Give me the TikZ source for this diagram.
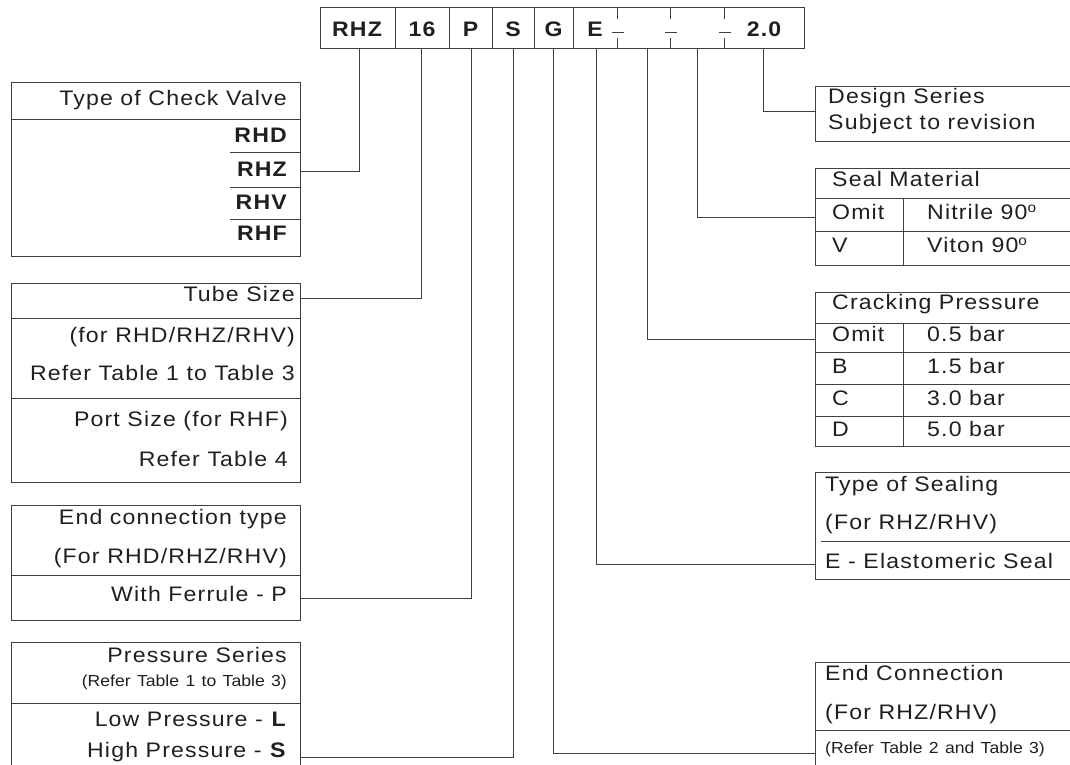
\documentclass[tikz,border=0pt]{standalone}
\usepackage{fontspec}
\usetikzlibrary{calc}
\newfontfamily\valvefont[FakeStretch=1.1,LetterSpace=5.5]{Liberation Sans}
\newfontfamily\valvenote[FakeStretch=1.1,WordSpace=1.3]{Liberation Sans}
\colorlet{rulecol}{black!75}
\colorlet{inkcol}{black!88}
\newcommand{\degmark}{\raisebox{0.6ex}{\fontsize{14}{14}\selectfont o}}
\tikzset{
  frame/.style={draw=rulecol,line width=0.9pt},
  link/.style={draw=rulecol,line width=0.9pt},
  txt/.style={inner sep=0pt,yshift=-2pt,text=inkcol,font=\valvefont\fontsize{21}{25}\selectfont},
  txtl/.style={txt,anchor=mid west},
  txtr/.style={txt,anchor=mid east},
  bld/.style={txtr,font=\valvefont\bfseries\fontsize{21}{25}\selectfont},
  note/.style={inner sep=0pt,yshift=-1.5pt,text=inkcol,font=\valvenote\fontsize{16}{19}\selectfont},
  code/.style={inner sep=0pt,text=inkcol,font=\valvefont\bfseries\fontsize{21}{25}\selectfont},
}

\begin{document}
\begin{tikzpicture}[x=1pt,y=-1pt]
  \useasboundingbox (0,0) rectangle (1070,764);
  \clip (0,0) rectangle (1070,764);

  % ordering code
  \draw[frame] (320,7) rectangle (804,48);
  \foreach \x in {395,449,492,534,573}
    \draw[frame] (\x,7) -- (\x,48);
  \foreach \x in {617,670,724} {
    \draw[frame] (\x,7) -- (\x,19) (\x,38) -- (\x,48);
    \draw[frame] (\x-5,32) -- (\x+7,32);
  }
  \foreach \x/\t/\n in {357/RHZ/type,422/16/size,470.5/P/conn,513/S/press,553.5/G/endc,595/E/seal,764/2.0/design}
    \node[code] (code-\n) at (\x,29) {\t};
  \foreach \x/\n in {359/type,421/size,471/conn,513/press,553/endc,596/seal,647/crack,697/mat,763/design}
    \coordinate (drop-\n) at (\x,48);

  % left tables
  \draw[frame] (11,82) rectangle (300,256);
  \draw[frame] (11,119) -- (300,119);
  \foreach \y in {152,187,219}
    \draw[frame] (230,\y) -- (300,\y);
  \node[txtr] (typehead) at (287,101) {Type of Check Valve};
  \node[bld] (rhd) at (287,138) {RHD};
  \node[bld] (rhz) at (287,172) {RHZ};
  \node[bld] (rhv) at (287,205) {RHV};
  \node[bld] (rhf) at (287,236) {RHF};

  \draw[frame] (11,283) rectangle (300,482);
  \draw[frame] (11,318) -- (300,318) (11,398) -- (300,398);
  \node[txtr] (sizehead) at (295,297) {Tube Size};
  \node[txtr] (sizefor) at (295,338) {(for RHD/RHZ/RHV)};
  \node[txtr] (sizeref) at (295,376) {Refer Table 1 to Table 3};
  \node[txtr] (porthead) at (288,422) {Port Size (for RHF)};
  \node[txtr] (portref) at (288,462) {Refer Table 4};

  \draw[frame] (11,505) rectangle (300,620);
  \draw[frame] (11,575) -- (300,575);
  \node[txtr] (connhead) at (287,520) {End connection type};
  \node[txtr] (connfor) at (287,559) {(For RHD/RHZ/RHV)};
  \node[txtr] (ferrule) at (287,597) {With Ferrule - P};

  \draw[frame] (11,642) rectangle (300,790);
  \draw[frame] (11,703) -- (300,703);
  \node[txtr] (presshead) at (287,658) {Pressure Series};
  \node[note,anchor=mid east] (pressref) at (287,683) {(Refer Table 1 to Table 3)};
  \node[txtr] (low) at (287,722) {Low Pressure - \textbf{L}};
  \node[txtr] (high) at (287,753) {High Pressure - \textbf{S}};

  % right tables
  \draw[frame] (815,86) rectangle (1090,141);
  \node[txtl] (dshead) at (828,99) {Design Series};
  \node[txtl] (dsrev) at (828,125) {Subject to revision};

  \draw[frame] (815,168) rectangle (1090,265);
  \draw[frame] (815,198) -- (1090,198) (815,231) -- (1090,231) (903,198) -- (903,265);
  \node[txtl] (mathead) at (832,182) {Seal Material};
  \node[txtl] (matomit) at (832,215) {Omit};
  \node[txtl] (nitrile) at (927,215) {Nitrile 90\degmark};
  \node[txtl] (matv) at (832,248) {V};
  \node[txtl] (viton) at (927,248) {Viton 90\degmark};

  \draw[frame] (815,292) rectangle (1090,446);
  \foreach \y in {323,352,384,416}
    \draw[frame] (815,\y) -- (1090,\y);
  \draw[frame] (903,323) -- (903,446);
  \node[txtl] (crackhead) at (832,305) {Cracking Pressure};
  \foreach \y/\k/\v in {337/Omit/0.5,369/B/1.5,401/C/3.0,432/D/5.0} {
    \node[txtl] (crack-\k) at (832,\y) {\k};
    \node[txtl] (bar-\k) at (927,\y) {\v\ bar};
  }

  \draw[frame] (815,472) rectangle (1090,579);
  \draw[frame] (821,541) -- (1090,541);
  \node[txtl] (sealhead) at (825,487) {Type of Sealing};
  \node[txtl] (sealfor) at (825,525) {(For RHZ/RHV)};
  \node[txtl] (elast) at (825,564) {E - Elastomeric Seal};

  \draw[frame] (815,662) rectangle (1090,800);
  \draw[frame] (815,730) -- (1090,730);
  \node[txtl] (endhead) at (825,676) {End Connection};
  \node[txtl] (endfor) at (825,715) {(For RHZ/RHV)};
  \node[note,anchor=mid west] (endref) at (825,750) {(Refer Table 2 and Table 3)};

  % leaders
  \foreach \n/\y in {type/171,size/298,conn/598,press/757}
    \coordinate (in-\n) at (300,\y);
  \foreach \n/\y in {design/111,mat/217,crack/339,seal/564,endc/753}
    \coordinate (in-\n) at (815,\y);
  \foreach \n in {type,size,conn,press,endc,seal,crack,mat,design}
    \draw[link] (drop-\n) |- (in-\n);
\end{tikzpicture}
\end{document}
